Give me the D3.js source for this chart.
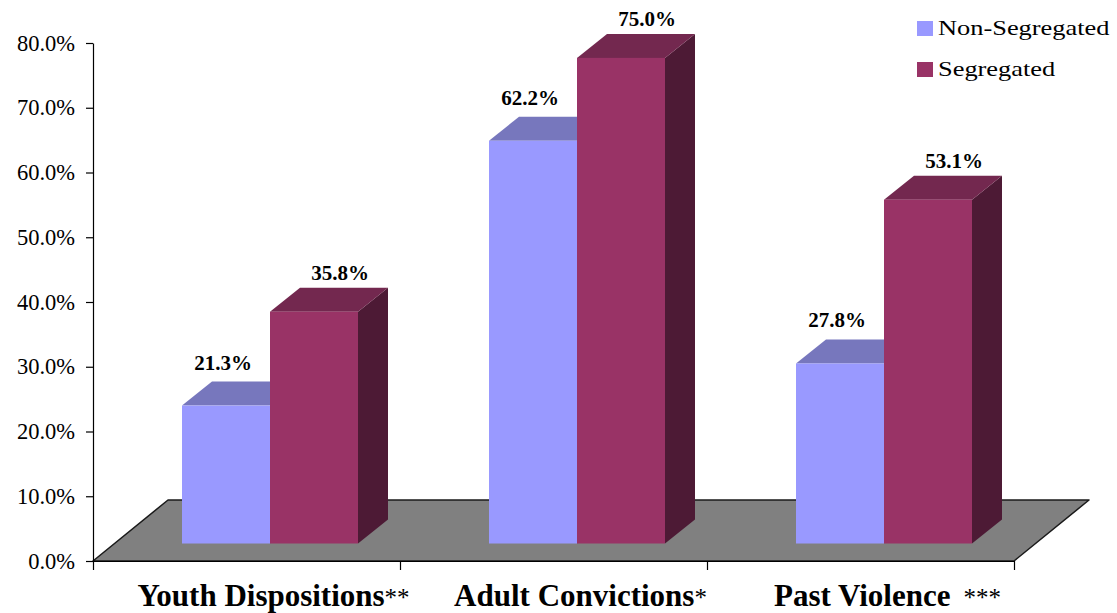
<!DOCTYPE html>
<html>
<head>
<meta charset="utf-8">
<script src="https://cdn.jsdelivr.net/npm/d3@7"></script>
<style>
  html, body { margin: 0; padding: 0; background: #fff; }
  svg { display: block; font-family: "Liberation Serif", "Times New Roman", serif; }
</style>
</head>
<body>
<svg id="chart" width="1117" height="613"></svg>
<script>
// Chart data
const categories = ["Youth Dispositions", "Adult Convictions", "Past Violence"];
const categoryMarks = ["**", "*", "***"];
const seriesNames = ["Non-Segregated", "Segregated"];
const nonSegregated = [0.213, 0.622, 0.278];
const segregated = [0.358, 0.750, 0.531];
const yTicks = [0, 0.1, 0.2, 0.3, 0.4, 0.5, 0.6, 0.7, 0.8];

const colors = {
  front: ["#9999FF", "#993366"],
  top:   ["#7777BD", "#73284F"],
  side:  ["#5A5A99", "#4D1A35"]
};

const svg = d3.select("#chart");

// Front plane of the 3D plot box
const plotLeft = 93, plotRight = 1014, plotBottom = 561, plotTop = 43;
const floorDepth = { dx: 75, dy: -61 };   // full depth of the floor
const barShift = { dx: 22, dy: -17.5 };   // bars sit part-way into the floor
const barDepth = { dx: 30, dy: -24 };     // thickness of each bar
const barInner = 67, barWidth = 88;

const y = d3.scaleLinear().domain([0, 0.8]).range([plotBottom, plotTop]);
const x = d3.scaleBand().domain(categories).range([plotLeft, plotRight]).padding(0);
const xEdge = d3.scaleLinear().domain([0, categories.length]).range([plotLeft, plotRight]);

// Floor
svg.append("polygon")
  .attr("points", [
    [plotLeft, plotBottom],
    [plotRight, plotBottom],
    [plotRight + floorDepth.dx, plotBottom + floorDepth.dy],
    [plotLeft + floorDepth.dx, plotBottom + floorDepth.dy]
  ].map(p => p.join(",")).join(" "))
  .attr("fill", "#808080")
  .attr("stroke", "#1a1a1a")
  .attr("stroke-width", 1.5)
  .attr("stroke-linejoin", "round");

// Axes
const yAxis = svg.append("g")
  .attr("transform", `translate(${plotLeft},0)`)
  .call(d3.axisLeft(y).tickValues(yTicks).tickFormat(d3.format(".1%"))
        .tickSize(7).tickPadding(11).tickSizeOuter(0));
yAxis.select(".domain").attr("stroke", "#000").attr("stroke-width", 1.2);
yAxis.selectAll(".tick line").attr("stroke", "#000").attr("stroke-width", 1.2);
yAxis.selectAll(".tick text")
  .attr("font-family", "Liberation Serif, Times New Roman, serif")
  .attr("font-size", 22.5).attr("fill", "#000");

const xAxis = svg.append("g")
  .attr("transform", `translate(0,${plotBottom})`)
  .call(d3.axisBottom(xEdge).tickValues(d3.range(categories.length + 1))
        .tickFormat("").tickSize(9).tickSizeOuter(0));
xAxis.select(".domain").attr("stroke", "#000").attr("stroke-width", 1.2);
xAxis.selectAll(".tick line").attr("stroke", "#000").attr("stroke-width", 1.2);

// Bars
const rows = categories.map((c, i) => ({
  category: c,
  values: [nonSegregated[i], segregated[i]]
}));

function pts(arr) { return arr.map(p => p.join(",")).join(" "); }

const barBase = plotBottom + barShift.dy;
const groups = svg.append("g").selectAll("g.cat").data(rows).join("g").attr("class", "cat");

groups.each(function(row) {
  const g = d3.select(this);
  row.values.forEach((v, s) => {
    const x0 = x(row.category) + barInner + barShift.dx + s * barWidth;
    const x1 = x0 + barWidth;
    const yTop = barBase - (plotBottom - y(v));
    const yBot = barBase;
    const bx = barDepth.dx, by = barDepth.dy;
    // side face
    g.append("polygon")
      .attr("points", pts([[x1, yBot], [x1 + bx, yBot + by], [x1 + bx, yTop + by], [x1, yTop]]))
      .attr("fill", colors.side[s]);
    // top face
    g.append("polygon")
      .attr("points", pts([[x0, yTop], [x1, yTop], [x1 + bx, yTop + by], [x0 + bx, yTop + by]]))
      .attr("fill", colors.top[s]);
    // front face
    g.append("rect")
      .attr("x", x0).attr("y", yTop)
      .attr("width", barWidth).attr("height", yBot - yTop)
      .attr("fill", colors.front[s]);
    // value label
    const lx = s === 0 ? x0 + barWidth / 2 - 3 : x0 + barWidth / 2 + bx - 4;
    const ly = s === 0 ? yTop + by - 12 : yTop + by - 8;
    g.append("text")
      .attr("x", lx).attr("y", ly)
      .attr("text-anchor", "middle")
      .attr("font-size", 21).attr("font-weight", "bold")
      .attr("fill", "#000")
      .text(d3.format(".1%")(v));
  });
});

// Category labels
categories.forEach((c, i) => {
  const cx = x(c) + x.bandwidth() / 2 + 27;
  const t = svg.append("text")
    .attr("text-anchor", "middle")
    .attr("x", cx).attr("y", 606)
    .attr("fill", "#000");
  t.append("tspan").attr("font-size", 31).attr("font-weight", "bold").text(c);
  t.append("tspan").attr("font-size", 25).attr("font-weight", "normal")
    .attr("dx", i === 2 ? 13 : 0)
    .text(categoryMarks[i]);
});

// Legend
const legend = svg.append("g").selectAll("g").data(seriesNames).join("g")
  .attr("transform", (d, i) => `translate(917,${21 + i * 41})`);
legend.append("rect").attr("width", 16).attr("height", 15)
  .attr("fill", (d, i) => colors.front[i]);
legend.append("text")
  .attr("transform", "translate(21,14) scale(1.2,1)")
  .attr("font-size", 22).attr("fill", "#000")
  .text(d => d);
</script>
</body>
</html>
